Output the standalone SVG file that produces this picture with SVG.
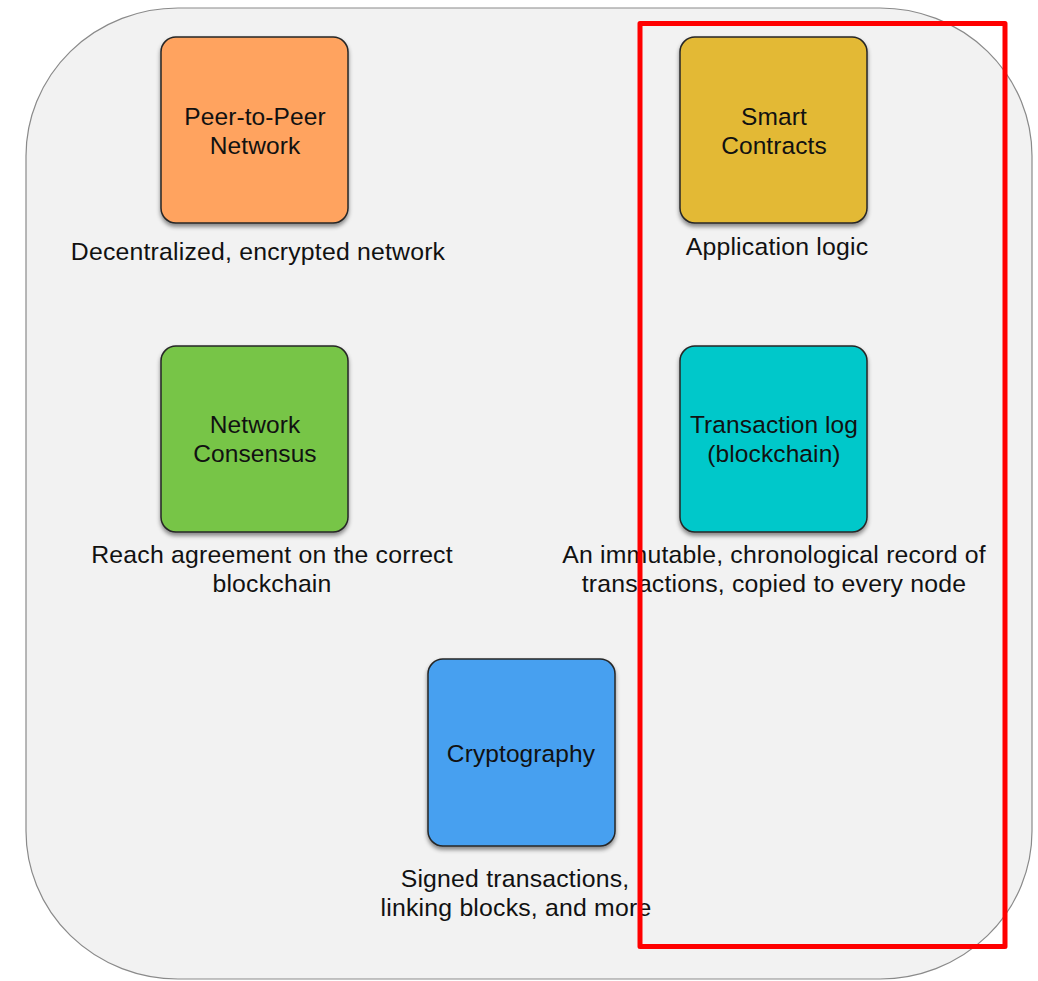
<svg xmlns="http://www.w3.org/2000/svg" width="1038" height="981" viewBox="0 0 1038 981">
  <defs>
    <filter id="shadow" x="-10%" y="-10%" width="120%" height="125%">
      <feDropShadow dx="0" dy="3" stdDeviation="2" flood-color="#000" flood-opacity="0.45"/>
    </filter>
    <style>
      .panel { fill: #f2f2f2; stroke: #8a8a8a; stroke-width: 1.2; }
      .box { stroke: #262626; stroke-width: 1.5; filter: url(#shadow); }
      .label { font-family: "Liberation Sans", Arial, sans-serif; font-size: 24.5px; letter-spacing: 0.1px; fill: #111; text-anchor: middle; }
      .caption { font-family: "Liberation Sans", Arial, sans-serif; font-size: 24.8px; letter-spacing: 0.2px; fill: #111; text-anchor: middle; }
      .highlight { fill: none; stroke: #ff0000; stroke-width: 5; stroke-linejoin: round; }
    </style>
  </defs>

  <rect width="1038" height="981" fill="#ffffff"/>

  <!-- background panel -->
  <rect class="panel" x="26" y="8" width="1006" height="971" rx="152" ry="148"/>

  <g id="p2p-network">
    <rect class="box" x="161" y="37" width="187" height="186" rx="15" fill="#ffa35f"/>
    <text class="label" x="255" y="125">Peer-to-Peer</text>
    <text class="label" x="255" y="154">Network</text>
    <text class="caption" x="258" y="260">Decentralized, encrypted network</text>
  </g>

  <g id="smart-contracts">
    <rect class="box" x="680" y="37" width="187" height="186" rx="15" fill="#e3b934"/>
    <text class="label" x="774" y="125">Smart</text>
    <text class="label" x="774" y="154">Contracts</text>
    <text class="caption" x="777" y="255">Application logic</text>
  </g>

  <g id="network-consensus">
    <rect class="box" x="161" y="346" width="187" height="186" rx="15" fill="#77c547"/>
    <text class="label" x="255" y="433">Network</text>
    <text class="label" x="255" y="462">Consensus</text>
    <text class="caption" x="272" y="563">Reach agreement on the correct</text>
    <text class="caption" x="272" y="592">blockchain</text>
  </g>

  <g id="transaction-log">
    <rect class="box" x="680" y="346" width="187" height="186" rx="15" fill="#00c8ca"/>
    <text class="label" x="774" y="433">Transaction log</text>
    <text class="label" x="774" y="462">(blockchain)</text>
    <text class="caption" x="774" y="563">An immutable, chronological record of</text>
    <text class="caption" x="774" y="592">transactions, copied to every node</text>
  </g>

  <g id="cryptography">
    <rect class="box" x="428" y="659" width="187" height="187" rx="15" fill="#47a0f0"/>
    <text class="label" x="521" y="762">Cryptography</text>
    <text class="caption" x="515" y="887">Signed transactions,</text>
    <text class="caption" x="516" y="916">linking blocks, and more</text>
  </g>

  <g id="connectors"></g>

  <!-- highlight frame around the right column -->
  <rect class="highlight" x="640" y="23.5" width="365" height="923"/>
</svg>
